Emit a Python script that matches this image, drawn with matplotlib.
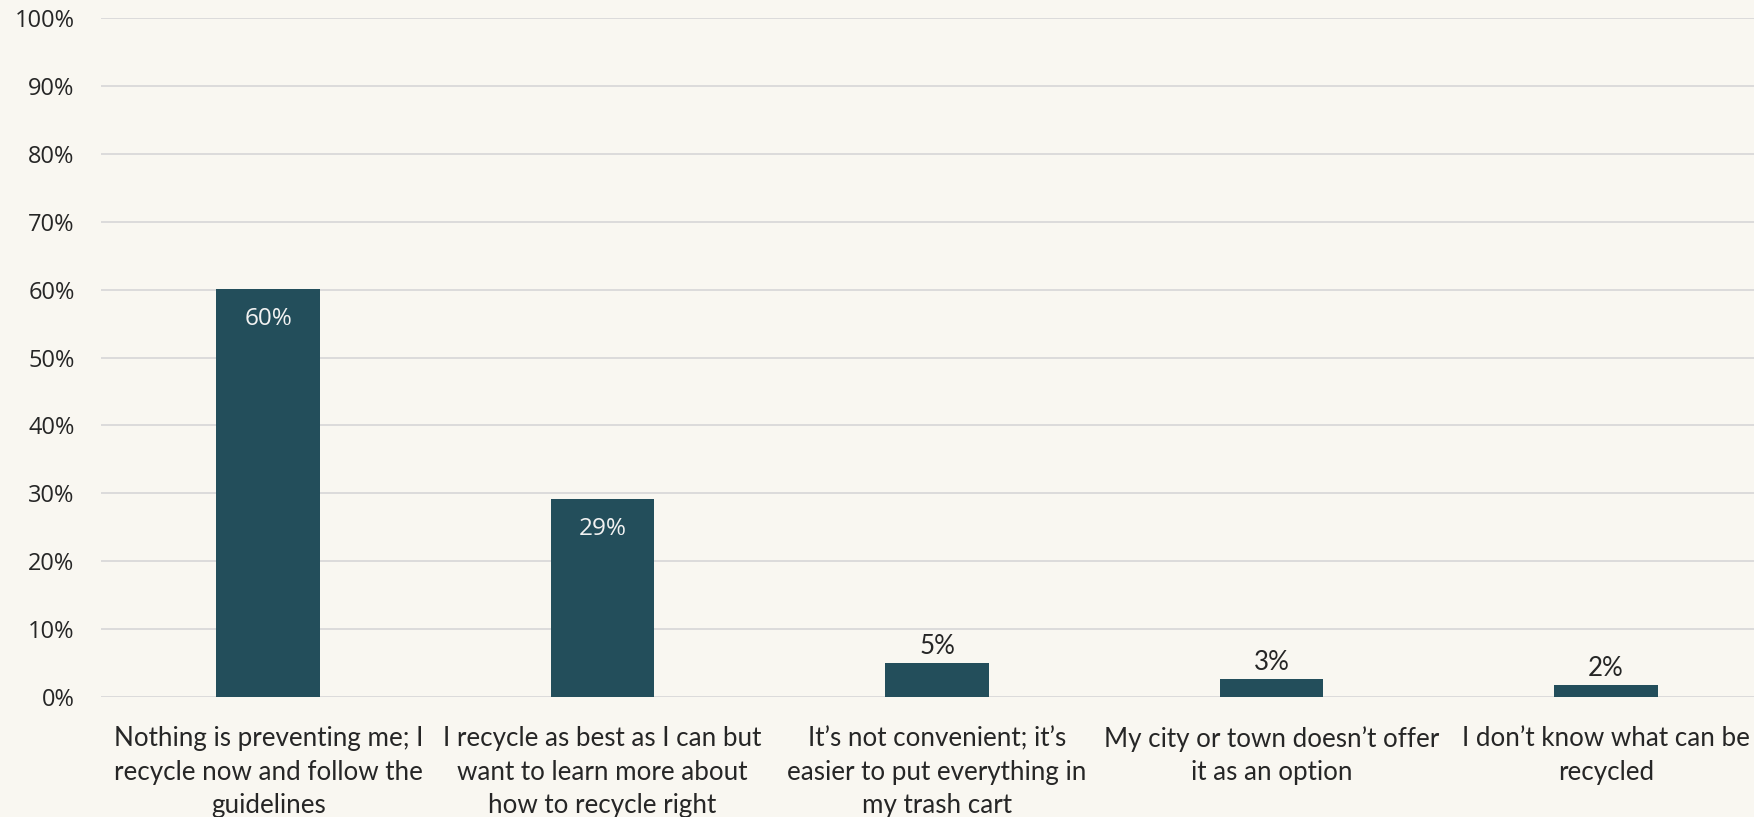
import matplotlib.pyplot as plt
from matplotlib.ticker import PercentFormatter

categories = [
    "Nothing is preventing me; I\nrecycle now and follow the\nguidelines",
    "I recycle as best as I can but\nwant to learn more about\nhow to recycle right",
    "It\u2019s not convenient; it\u2019s\neasier to put everything in\nmy trash cart",
    "My city or town doesn\u2019t offer\nit as an option",
    "I don\u2019t know what can be\nrecycled",
]
values = [60.1, 29.2, 5.0, 2.7, 1.8]
yticks = list(range(0, 101, 10))

bg = '#f9f7f1'
bar_color = '#234e5b'
text_color = '#262626'
narrow = ['Lato', 'DejaVu Sans']

fig = plt.figure(figsize=(17.54, 8.17), dpi=100, facecolor=bg)
ax = fig.add_axes([101 / 1754, 1 - 697 / 817, 1672 / 1754, 679 / 817])
ax.set_facecolor(bg)

x = list(range(len(values)))
bars = ax.bar(x, values, width=0.31, color=bar_color, zorder=2)

ax.set_ylim(0, 100)
ax.set_xlim(-0.5, len(values) - 0.5)
ax.set_yticks(yticks)
ax.yaxis.set_major_formatter(PercentFormatter(decimals=0))
ax.grid(axis='y', color='#d9d9d9', linewidth=1.3, zorder=0)
ax.set_axisbelow(True)
for s in ax.spines.values():
    s.set_visible(False)

ax.tick_params(axis='y', length=0, pad=19, labelsize=17, labelcolor=text_color)
ax.tick_params(axis='x', length=0, pad=21)
for lab in ax.get_yticklabels():
    lab.set_fontfamily('Open Sans')

ax.set_xticks(x)
ax.set_xticklabels(categories, fontsize=18.7, color=text_color,
                   family=narrow, linespacing=1.42)

for rect, v in zip(bars, values):
    cx = rect.get_x() + rect.get_width() / 2
    if v > 20:
        ax.annotate(f'{v:.0f}%', (cx, v), xytext=(0, -22), textcoords='offset points',
                    ha='center', va='center', color='#f2f2f2', fontsize=17.5,
                    family='Open Sans')
    else:
        ax.annotate(f'{v:.0f}%', (cx, v), xytext=(0, 3), textcoords='offset points',
                    ha='center', va='bottom', color=text_color, fontsize=18.7,
                    family=narrow)

fig.savefig('out.png', dpi=100, facecolor=bg)
